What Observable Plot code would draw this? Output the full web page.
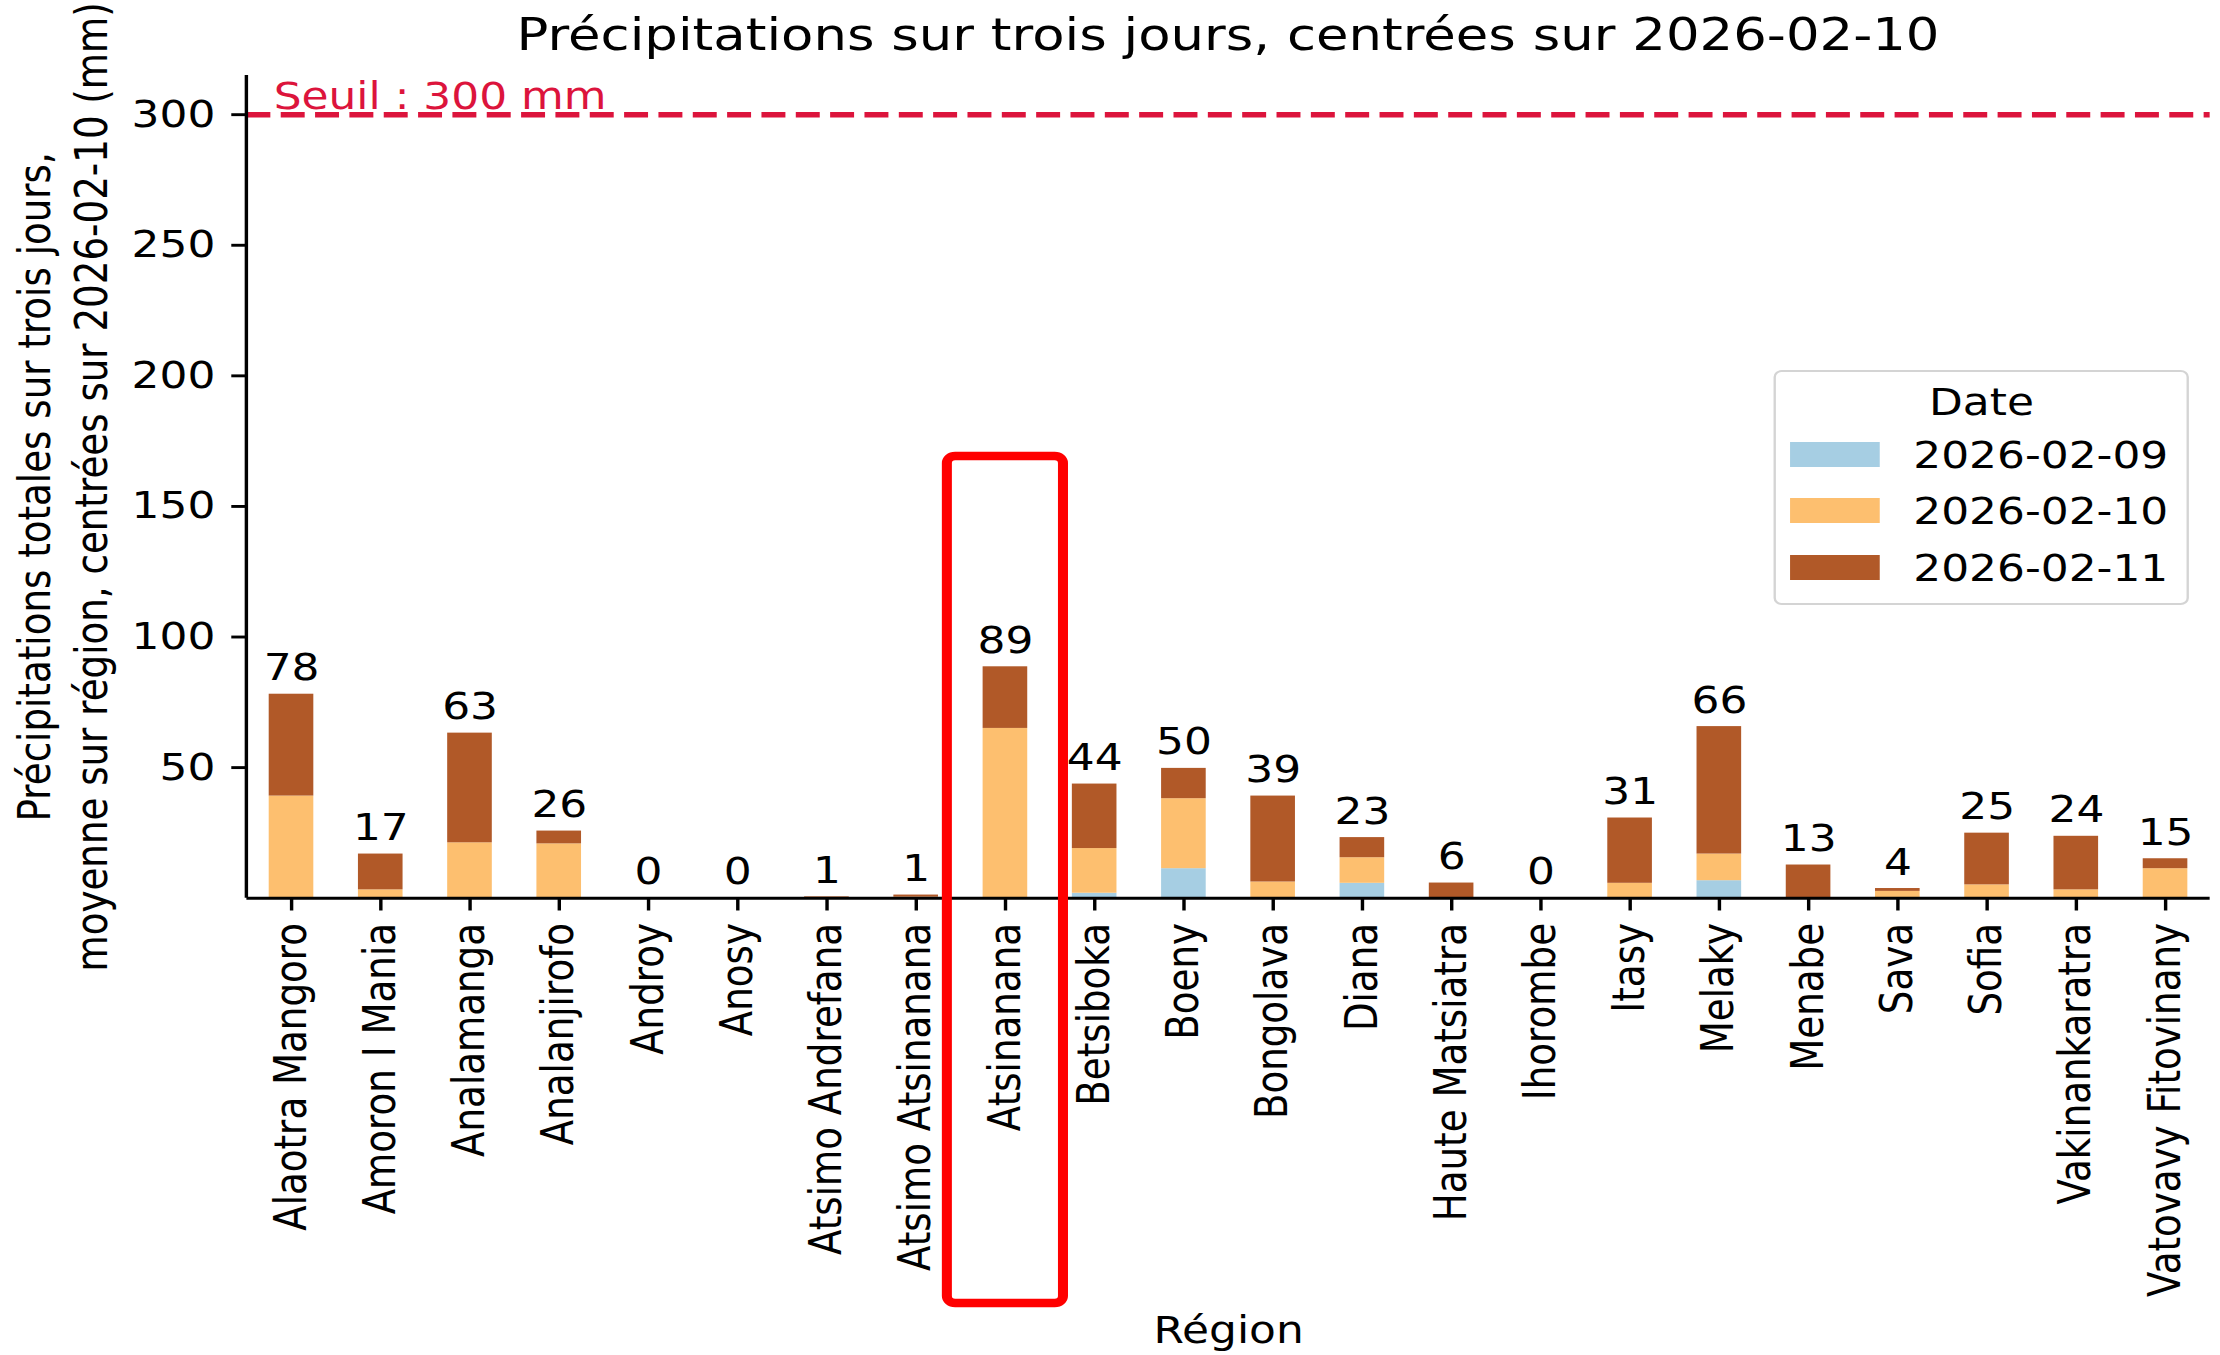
<!DOCTYPE html>
<html><head><meta charset="utf-8">
<script src="https://cdn.jsdelivr.net/npm/d3@7"></script>
<script src="https://cdn.jsdelivr.net/npm/@observablehq/plot@0.6"></script>
<style>
html,body{margin:0;padding:0;background:#fff;}
#wrap{position:relative;width:1881.4px;height:1355px;transform:scaleX(1.18);transform-origin:0 0;font-family:"DejaVu Sans",sans-serif;color:#000;overflow:visible;}
#title{height:70px;line-height:70px;font-size:44.8px;text-align:center;padding-left:208.8px;padding-right:8.8px;white-space:nowrap;}
#legend{position:absolute;left:1503.4px;top:370px;width:351.7px;height:235px;box-sizing:border-box;border:2.5px solid #d4d4d4;border-radius:7px;background:rgba(255,255,255,0.8);font-size:37.2px;}
.row{position:absolute;left:0;right:0;height:56px;line-height:56px;white-space:nowrap;}
.sw{position:absolute;left:12px;top:15.5px;width:75.4px;height:25px;}
.lab{position:absolute;left:116px;}
.ttl{text-align:center;}
</style></head><body>
<div id="wrap"><div id="title"></div><div id="chart"></div><div id="legend"></div></div>
<script>
// ---- data ----
const titleText = "Précipitations sur trois jours, centrées sur 2026-02-10";
const yLabel = "Précipitations totales sur trois jours,\nmoyenne sur région, centrées sur 2026-02-10 (mm)";
const xLabel = "Région";
const legendTitle = "Date";
const regions = ["Alaotra Mangoro","Amoron I Mania","Analamanga","Analanjirofo","Androy","Anosy","Atsimo Andrefana","Atsimo Atsinanana","Atsinanana","Betsiboka","Boeny","Bongolava","Diana","Haute Matsiatra","Ihorombe","Itasy","Melaky","Menabe","Sava","Sofia","Vakinankaratra","Vatovavy Fitovinany"];
const dates = ["2026-02-09","2026-02-10","2026-02-11"];
const rain0209 = [0,0,0,0,0,0,0,0,0,1.9,11.3,0,5.7,0,0,0,6.7,0,0,0,0,0];
const rain0210 = [39.1,3.2,21.2,20.8,0,0,0.2,0.4,65,17.1,26.8,6.2,9.8,0,0,5.7,10.2,0,2.6,5.1,3.2,11.3];
const rain0211 = [39,13.7,42,4.9,0,0,0.3,0.8,23.6,24.7,11.6,32.9,7.7,5.8,0,25,48.8,12.7,1.1,19.8,20.5,3.8];
const colors = ["#a6cee3","#fdbf6f","#b15928"];
const threshold = 300;
const yTicks = [50,100,150,200,250,300];
const highlight = "Atsinanana";

// ---- build ----
const series = [rain0209, rain0210, rain0211];
const data = dates.flatMap((d, j) => regions.map((r, i) => ({region: r, date: d, value: series[j][i]})));
const totals = regions.map((r, i) => ({region: r, total: rain0209[i] + rain0210[i] + rain0211[i]}));

document.getElementById("title").textContent = titleText;

const W = 1881.4, H = 1285, ML = 208.8, MR = 8.8, MT = 5, MB = 457.3;
const FS = 37.2;
const chart = Plot.plot({
  width: W, height: H,
  marginLeft: ML, marginRight: MR, marginTop: MT, marginBottom: MB,
  style: {fontFamily: "DejaVu Sans", fontSize: FS + "px", color: "#000", background: "transparent", overflow: "visible"},
  x: {domain: regions, paddingInner: 0.5, paddingOuter: 0.25, round: false, label: null},
  y: {domain: [0, 315], label: null},
  color: {domain: dates, range: colors},
  marks: [
    Plot.barY(data, {x: "region", y: "value", fill: "date"}),
    Plot.ruleY([threshold], {stroke: "#dc143c", strokeWidth: 5.5, strokeDasharray: "20.3,8.8"}),
    Plot.text([threshold], {y: d => d, frameAnchor: "left", dx: 22.6, dy: -6, text: d => `Seuil : ${d} mm`, fill: "#dc143c", textAnchor: "start", lineAnchor: "bottom", fontSize: FS}),
    Plot.text(totals, {x: "region", y: "total", text: d => String(Math.round(d.total)), dy: -14, lineAnchor: "bottom", fontSize: FS, fill: "#000"}),
    Plot.ruleY([0], {stroke: "#000", strokeWidth: 2.9}),
    Plot.axisY({ticks: yTicks, tickSize: 12.8, tickPadding: 14, tickFormat: d => String(d), fontSize: FS, label: null, strokeWidth: 2.9, fill: "#000"}),
    Plot.axisX({tickSize: 12.8, tickPadding: 12, tickRotate: -90, fontSize: FS, label: null, strokeWidth: 2.9, fill: "#000"}),
    Plot.text([yLabel], {frameAnchor: "left", rotate: -90, dx: -158.4, text: d => d, lineHeight: 1.3, fontSize: FS, textAnchor: "middle", lineAnchor: "middle", fill: "#000"}),
    Plot.text([xLabel], {frameAnchor: "bottom", dy: 432.6, text: d => d, fontSize: FS, textAnchor: "middle", lineAnchor: "middle", fill: "#000"})
  ]
});
document.getElementById("chart").appendChild(chart);

// left spine
const svg = d3.select(chart);
svg.append("line").attr("x1", ML).attr("x2", ML).attr("y1", MT).attr("y2", H - MB)
  .attr("stroke", "#000").attr("stroke-width", 2.9);

// highlight box around one region
const xs = chart.scale("x");
const cx = xs.apply(highlight) + xs.bandwidth / 2;
svg.append("rect").attr("x", cx - 49.2).attr("width", 98.4).attr("y", 386).attr("height", 847)
  .attr("rx", 7).attr("fill", "none").attr("stroke", "#ff0000").attr("stroke-width", 8.5);

// legend
const lg = document.getElementById("legend");
const t = document.createElement("div");
t.className = "row ttl"; t.style.top = "1.7px"; t.textContent = legendTitle;
lg.appendChild(t);
const rowCenters = [85, 141, 198];
dates.forEach((d, i) => {
  const row = document.createElement("div");
  row.className = "row"; row.style.top = (rowCenters[i] - 28 - 2.5) + "px";
  const sw = document.createElement("div"); sw.className = "sw"; sw.style.background = colors[i];
  const lab = document.createElement("div"); lab.className = "lab"; lab.textContent = d;
  row.appendChild(sw); row.appendChild(lab); lg.appendChild(row);
});
</script></body></html>
